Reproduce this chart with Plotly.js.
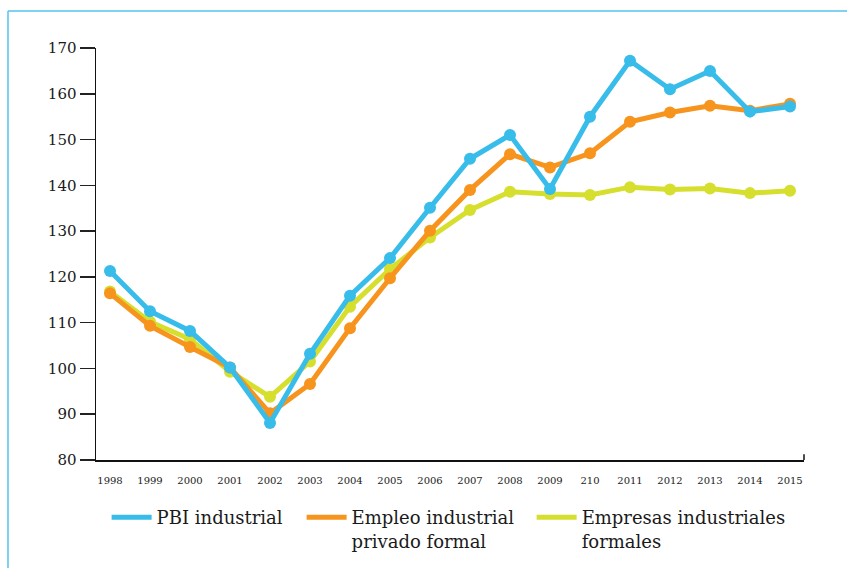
<!DOCTYPE html>
<html>
<head>
<meta charset="utf-8">
<script src="https://cdn.plot.ly/plotly-3.0.1.min.js"></script>
<style>
  html, body { margin: 0; padding: 0; background: #fff; }
  #chart { width: 847px; height: 568px; }
</style>
</head>
<body>
<div id="chart"></div>
<script>
// x labels as printed (the "210" is in the original)
var years = ['1998', '1999', '2000', '2001', '2002', '2003', '2004', '2005', '2006',
             '2007', '2008', '2009', '210', '2011', '2012', '2013', '2014', '2015'];

var pbi = [121.3, 112.5, 108.2, 100.2, 88.1, 103.2, 115.9, 124.1, 135.1,
           145.8, 151.0, 139.2, 155.0, 167.2, 161.0, 165.0, 156.1, 157.2];

var empleo = [116.4, 109.3, 104.7, 100.2, 90.2, 96.6, 108.8, 119.7, 130.1,
              139.0, 146.8, 143.9, 147.0, 153.9, 155.9, 157.4, 156.3, 157.8];

var empresas = [116.8, 110.2, 106.4, 99.3, 93.8, 101.5, 113.5, 121.7, 128.6,
                134.6, 138.6, 138.1, 137.9, 139.6, 139.1, 139.3, 138.3, 138.8];

var names = ['PBI industrial', 'Empleo industrial<br>privado formal', 'Empresas industriales<br>formales'];
var colors = ['#38bcea', '#f7941d', '#d6df2e'];
var series = [pbi, empleo, empresas];
var legendIds = ['legend', 'legend2', 'legend3'];

var data = [];
// draw yellow first, blue last so blue sits on top
[2, 1, 0].forEach(function (i) {
  data.push({
    type: 'scatter',
    mode: 'lines+markers',
    x: years,
    y: series[i],
    name: names[i],
    line: { color: colors[i], width: 5 },
    marker: { color: colors[i], size: 12 },
    showlegend: false,
    hoverinfo: 'skip'
  });
});
// legend-only line entries, one legend box each so they can sit where the original has them
[0, 1, 2].forEach(function (i) {
  data.push({
    type: 'scatter',
    mode: 'lines',
    x: [years[0]],
    y: [series[i][0]],
    name: names[i],
    legend: legendIds[i],
    line: { color: colors[i], width: 5 },
    hoverinfo: 'skip'
  });
});

var border = '#55c3ec';
var serif = 'DejaVu Serif';

function legendBox(x) {
  return {
    orientation: 'h',
    x: x,
    xanchor: 'left',
    y: -0.095,
    yanchor: 'top',
    font: { family: serif, size: 18, color: '#1a1a1a' },
    itemwidth: 40,
    valign: 'top'
  };
}

var layout = {
  width: 847,
  height: 568,
  margin: { l: 96, r: 43, t: 48, b: 108, autoexpand: false },
  paper_bgcolor: '#ffffff',
  plot_bgcolor: '#ffffff',
  font: { family: serif, color: '#1a1a1a' },
  showlegend: true,
  legend: legendBox(0.015),
  legend2: legendBox(0.2904),
  legend3: legendBox(0.6153),
  xaxis: {
    type: 'category',
    range: [-0.35, 17.35],
    showline: true,
    linecolor: '#111',
    linewidth: 1.5,
    showgrid: false,
    zeroline: false,
    ticks: 'outside',
    ticklen: 10,
    tickcolor: 'rgba(0,0,0,0)',
    tickfont: { family: serif, size: 10, color: '#1a1a1a' },
    fixedrange: true
  },
  yaxis: {
    range: [80, 170],
    tickvals: [80, 90, 100, 110, 120, 130, 140, 150, 160, 170],
    showline: true,
    linecolor: '#111',
    linewidth: 1.5,
    showgrid: false,
    zeroline: false,
    ticks: 'outside',
    ticklen: 15,
    tickwidth: 1.5,
    tickcolor: '#222',
    tickfont: { family: serif, size: 15, color: '#1a1a1a' },
    fixedrange: true
  },
  shapes: [
    // light blue frame, left and top edges
    { type: 'line', xref: 'paper', yref: 'paper', x0: -0.1243, x1: -0.1243, y0: 1.0898, y1: -0.27,
      line: { color: border, width: 1.5 } },
    { type: 'line', xref: 'paper', yref: 'paper', x0: -0.1243, x1: 1.07, y0: 1.0898, y1: 1.0898,
      line: { color: border, width: 1.5 } },
    // small end tick on the x axis
    { type: 'line', xref: 'paper', yref: 'paper', x0: 1, x1: 1, y0: 0, y1: 0.014,
      line: { color: '#111', width: 1.5 } }
  ]
};

Plotly.newPlot('chart', data, layout, { displayModeBar: false, staticPlot: true });
</script>
</body>
</html>
